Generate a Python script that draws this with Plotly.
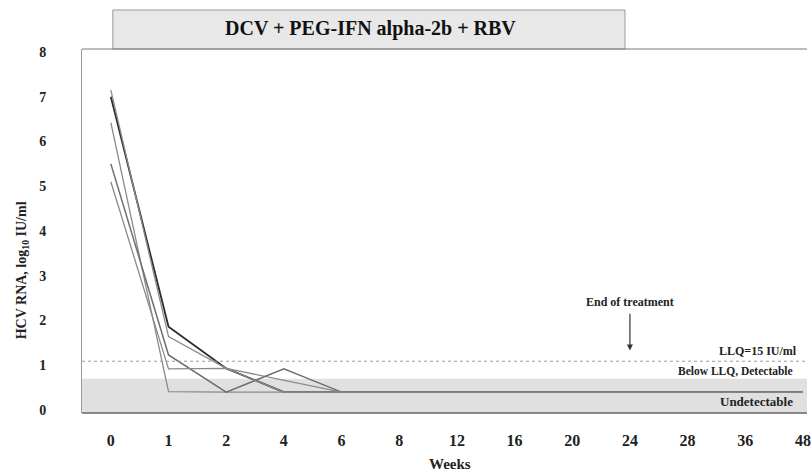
import plotly.graph_objects as go

weeks = ["0", "1", "2", "4", "6", "8", "12", "16", "20", "24", "28", "36", "48"]
p1 = [7.00, 1.86, 0.93, 0.40, 0.40, 0.40, 0.40, 0.40, 0.40, 0.40, 0.40, 0.40, 0.40]
p2 = [7.15, 1.64, 0.93, None, 0.40, 0.40, 0.40, 0.40, 0.40, 0.40, 0.40, 0.40, 0.40]
p3 = [6.42, 0.41, 0.40, 0.40, 0.40, 0.40, 0.40, 0.40, 0.40, 0.40, 0.40, 0.40, 0.40]
p4 = [5.50, 1.23, 0.40, 0.92, 0.40, 0.40, 0.40, 0.40, 0.40, 0.40, 0.40, 0.40, 0.40]
p5 = [5.10, 0.92, 0.93, 0.40, 0.40, 0.40, 0.40, 0.40, 0.40, 0.40, 0.40, 0.40, 0.40]
patients = [p1, p2, p3, p4, p5]
colors = ["#2a2a2a", "#8a8a8a", "#8a8a8a", "#6e6e6e", "#8a8a8a"]
widths = [1.8, 1.3, 1.3, 1.5, 1.3]

llq = 1.09
undet_top = 0.70
y_ticks = [0, 1, 2, 3, 4, 5, 6, 7, 8]

SERIF = "Liberation Serif"
fig = go.Figure()
xi = list(range(len(weeks)))
for vals, c, w in zip(patients, colors, widths):
    fig.add_trace(go.Scatter(x=xi, y=vals, mode="lines", connectgaps=True,
                             line=dict(color=c, width=w), showlegend=False))

# shaded undetectable band
fig.add_shape(type="rect", xref="paper", yref="y", x0=0, x1=1, y0=-0.067, y1=undet_top,
              fillcolor="#e0e0e0", line=dict(width=0), layer="below")
# LLQ dotted line
fig.add_shape(type="line", xref="paper", yref="y", x0=0, x1=1, y0=llq, y1=llq,
              line=dict(color="#9a9a9a", width=1, dash="dot"))
# title box
fig.add_shape(type="rect", xref="paper", yref="paper",
              x0=(113 - 82) / 729, x1=(628 - 82) / 729,
              y0=1.0, y1=1 + (49 - 10) / 364,
              fillcolor="#e8e8e8", line=dict(color="#9a9a9a", width=1))

fig.add_annotation(xref="paper", yref="paper", x=(372 - 82) / 729, y=1 + (49 - 29) / 364,
                   yanchor="middle", xanchor="center",
                   text="<b>DCV + PEG-IFN alpha-2b + RBV</b>", showarrow=False,
                   font=dict(family=SERIF, size=20, color="#111"))

fig.add_annotation(x=9, y=2.42, yanchor="middle", text="<b>End of treatment</b>", showarrow=False,
                   font=dict(family=SERIF, size=12, color="#222"), xanchor="center")
# arrow: vertical line plus arrowhead
fig.add_shape(type="line", xref="x", yref="y", x0=9, x1=9, y0=2.15, y1=1.45,
              line=dict(color="#333", width=1.2))
fig.add_annotation(x=9, y=1.33, ax=0, ay=-14,
                   showarrow=True, arrowhead=2, arrowsize=1, arrowwidth=1.2,
                   arrowcolor="#333", text=" ")
fig.add_annotation(xref="paper", x=(803 - 82) / 729, y=1.32, xanchor="right", yanchor="middle",
                   text="<b>LLQ=15 IU/ml</b>", showarrow=False,
                   font=dict(family=SERIF, size=12, color="#222"))
fig.add_annotation(xref="paper", x=(799 - 82) / 729, y=0.88, xanchor="right", yanchor="middle",
                   text="<b>Below LLQ, Detectable</b>", showarrow=False,
                   font=dict(family=SERIF, size=11.5, color="#222"))
fig.add_annotation(xref="paper", x=(799 - 82) / 729, y=0.18, xanchor="right", yanchor="middle",
                   text="<b>Undetectable</b>", showarrow=False,
                   font=dict(family=SERIF, size=13, color="#222"))

fig.add_annotation(xref="paper", yref="paper", x=(22 - 82) / 729, y=(413 - 270) / 364,
                   xanchor="center", yanchor="middle",
                   text="<b>HCV RNA, log<sub>10</sub> IU/ml</b>", textangle=-90,
                   showarrow=False, font=dict(family=SERIF, size=14, color="#222"))
fig.add_annotation(xref="paper", yref="paper", x=(452 - 82) / 729, y=-(464 - 413) / 364,
                   xanchor="center", yanchor="middle",
                   text="<b>Weeks</b>", showarrow=False,
                   font=dict(family=SERIF, size=15, color="#222"))

fig.update_xaxes(range=[-0.5, 12.07], tickmode="array", tickvals=xi,
                 ticktext=[f"<b>{w}</b>" for w in weeks],
                 showgrid=False, zeroline=False, showline=False, ticks="",
                 ticklabelstandoff=16, ticklabeloverflow="allow",
                 tickfont=dict(family=SERIF, size=16, color="#222"))
fig.update_yaxes(range=[-0.067, 8.067], tickmode="array", tickvals=y_ticks,
                 ticktext=[f"<b>{v}</b>" for v in y_ticks],
                 showgrid=False, zeroline=False, showline=True, linecolor="#9a9a9a",
                 linewidth=1, ticks="", ticklabelstandoff=32,
                 tickfont=dict(family=SERIF, size=14, color="#222"))
# top and bottom borders
fig.add_shape(type="line", xref="paper", yref="paper", x0=0, x1=1, y0=1, y1=1,
              line=dict(color="#7a7a7a", width=1))
fig.add_shape(type="line", xref="paper", yref="paper", x0=0, x1=1, y0=0, y1=0,
              line=dict(color="#666", width=1.5))

fig.update_layout(width=811, height=476, margin=dict(l=82, r=0, t=49, b=63),
                  plot_bgcolor="white", paper_bgcolor="white", showlegend=False)
fig.write_html("out.html")
